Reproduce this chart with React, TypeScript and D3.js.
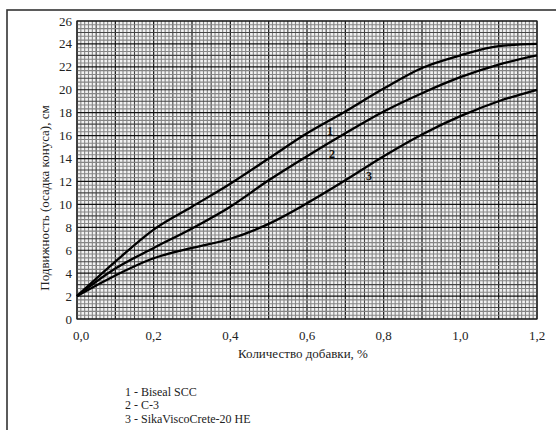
import React from "react";
import * as d3 from "d3";

const xValues = [0, 0.1, 0.2, 0.3, 0.4, 0.5, 0.6, 0.7, 0.8, 0.9, 1.0, 1.1, 1.2];
const series1 = [2, 5.0, 7.8, 9.8, 11.8, 14.0, 16.2, 18.1, 20.1, 21.9, 23.0, 23.8, 24.0];
const series2 = [2, 4.4, 6.2, 7.9, 9.8, 12.1, 14.2, 16.2, 18.1, 19.7, 21.1, 22.2, 23.0];
const series3 = [2, 3.8, 5.3, 6.2, 7.0, 8.3, 10.1, 12.1, 14.2, 16.1, 17.7, 19.0, 20.0];
const xTicks = [0, 0.2, 0.4, 0.6, 0.8, 1.0, 1.2];
const yTicks = [0, 2, 4, 6, 8, 10, 12, 14, 16, 18, 20, 22, 24, 26];
const legendItems = ["1 - Biseal SCC", "2 - C-3", "3 - SikaViscoCrete-20 HE"];
const curveLabels = [
  { text: "1", x: 0.66, y: 16.05 },
  { text: "2", x: 0.665, y: 14.05 },
  { text: "3", x: 0.762, y: 12.1 },
];

const W = 556;
const H = 430;
const left = 77, right = 537, top = 21, bottom = 319;
const textStyle = { fontFamily: "Liberation Serif" };

export default function App() {
  const x = d3.scaleLinear().domain([0, 1.2]).range([left, right]);
  const y = d3.scaleLinear().domain([0, 26]).range([bottom, top]);

  const line = d3
    .line<number>()
    .x((_, i) => x(xValues[i]))
    .y((d) => y(d))
    .curve(d3.curveMonotoneX);

  const minorX = d3.range(0, 121).map((i) => i / 100);
  const minorY = d3.range(0, 79).map((i) => i / 3);

  const vLines = minorX.map((v, i) => {
    let stroke = "#858585", sw = 1.1;
    if (i % 10 === 0) { stroke = "#111"; sw = 1.2; }
    else if (i % 5 === 0) { stroke = "#444"; sw = 1.1; }
    return <line key={"v" + i} x1={x(v)} x2={x(v)} y1={top} y2={bottom} stroke={stroke} strokeWidth={sw} />;
  });
  const hLines = minorY.map((v, i) => {
    let stroke = "#858585", sw = 1.1;
    if (i % 6 === 0) { stroke = "#111"; sw = 1.2; }
    else if (i % 3 === 0) { stroke = "#444"; sw = 1.1; }
    return <line key={"h" + i} y1={y(v)} y2={y(v)} x1={left} x2={right} stroke={stroke} strokeWidth={sw} />;
  });

  const series = [series1, series2, series3];

  return (
    <svg width={W} height={H} style={{ display: "block", position: "absolute", left: 0, top: 0, background: "#fff" }}>
      <rect x={0} y={0} width={W} height={H} fill="#fff" />
      <rect x={7} y={10} width={W + 10} height={H + 10} fill="none" stroke="#333" strokeWidth={1.6} />
      <rect x={left} y={top} width={right - left} height={bottom - top} fill="#f2f2f2" />
      {vLines}
      {hLines}
      <rect x={left} y={top} width={right - left} height={bottom - top} fill="none" stroke="#222" strokeWidth={1.2} />
      {series.map((s, i) => (
        <path key={i} d={line(s) || ""} fill="none" stroke="#000" strokeWidth={2.3} />
      ))}
      {curveLabels.map((c, i) => (
        <text key={i} x={x(c.x)} y={y(c.y)} style={textStyle} fontSize={12} fontWeight="bold" fill="#111" textAnchor="middle">
          {c.text}
        </text>
      ))}
      {yTicks.map((t) => (
        <text key={t} x={72} y={y(t) + 4.5} style={textStyle} fontSize={13} textAnchor="end" fill="#222">
          {t}
        </text>
      ))}
      {xTicks.map((t) => (
        <text key={t} x={x(t) + (t === 0 ? 4 : 0)} y={340} style={textStyle} fontSize={13} textAnchor="middle" fill="#222">
          {t.toFixed(1).replace(".", ",")}
        </text>
      ))}
      <text x={303} y={358} style={textStyle} fontSize={13} textAnchor="middle" fill="#222">
        Количество добавки, %
      </text>
      <text
        transform={`translate(49, 198) rotate(-90)`}
        style={textStyle}
        fontSize={13}
        textAnchor="middle"
        fill="#222"
      >
        Подвижность (осадка конуса), см
      </text>
      {legendItems.map((t, i) => (
        <text key={t} x={125} y={395.5 + i * 13.5} style={textStyle} fontSize={12} fill="#222">
          {t}
        </text>
      ))}
    </svg>
  );
}
